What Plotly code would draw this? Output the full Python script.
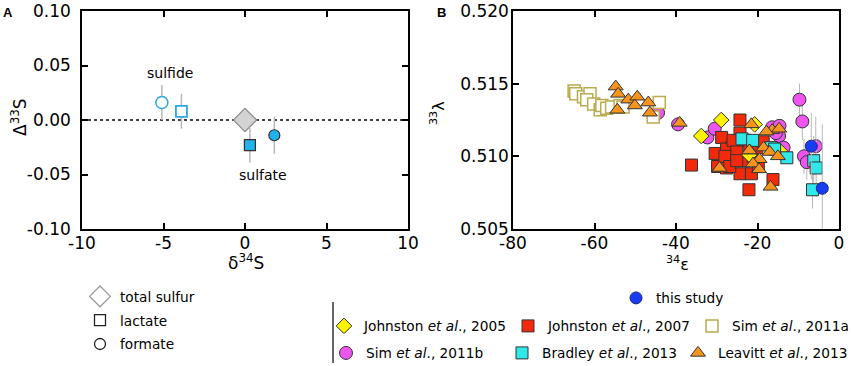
import plotly.graph_objects as go

# ---------------- Panel A data ----------------
a_xticks = [-10, -5, 0, 5, 10]
a_xticktext = ["-10", "-5", "0", "5", "10"]
a_yticks = [-0.10, -0.05, 0.0, 0.05, 0.10]
a_yticktext = ["-0.10", "-0.05", "0.00", "0.05", "0.10"]

sulfide_formate_x = [-5.1]
sulfide_formate_y = [0.016]
sulfide_formate_err = [0.016]
sulfide_lactate_x = [-3.9]
sulfide_lactate_y = [0.008]
sulfide_lactate_err = [0.016]
total_sulfur_x = [0.0]
total_sulfur_y = [0.0]
sulfate_lactate_x = [0.3]
sulfate_lactate_y = [-0.023]
sulfate_lactate_err = [0.016]
sulfate_formate_x = [1.8]
sulfate_formate_y = [-0.014]
sulfate_formate_err = [0.017]

# ---------------- Panel B data ----------------
b_xticks = [-80, -60, -40, -20, 0]
b_xticktext = ["-80", "-60", "-40", "-20", "0"]
b_yticks = [0.505, 0.510, 0.515, 0.520]
b_yticktext = ["0.505", "0.510", "0.515", "0.520"]

sim2011b_x = [-44.4, -39.5, -32.3, -30.5, -16.4, -14.6, -14.7, -13.6, -15.5, -9.7, -9.0, -8.6, -7.9, -5.7]
sim2011b_y = [0.5130, 0.5122, 0.5113, 0.5119, 0.5120, 0.5121, 0.5114, 0.5106, 0.5116, 0.5139, 0.5124, 0.5100, 0.5096, 0.5107]
sim2011b_err = [0.0002, 0.0002, 0.0002, 0.0002, 0.0004, 0.0004, 0.0004, 0.0004, 0.0004, 0.0011, 0.0013, 0.0012, 0.0012, 0.0020]

sim2011a_x = [-65.0, -64.6, -62.7, -61.1, -61.9, -60.2, -58.6, -58.2, -57.0, -55.8, -53.7, -53.0, -45.6, -44.1]
sim2011a_y = [0.5145, 0.5143, 0.5141, 0.5143, 0.5139, 0.5136, 0.5132, 0.5135, 0.5133, 0.5134, 0.5135, 0.5134, 0.5127, 0.5137]

johnston2007_x = [-24.3, -28.8, -30.4, -29.8, -27.6, -26.4, -24.3, -23.1, -25.6, -23.5, -21.9, -21.1, -24.3,
                  -21.5, -22.1, -27.6, -26.0, -25.1, -28.0, -20.2, -18.6, -19.8, -16.2, -36.2, -26.8, -25.1]
johnston2007_y = [0.5125, 0.5113, 0.5102, 0.5093, 0.5092, 0.5106, 0.5116, 0.5111, 0.5100, 0.5097, 0.5105, 0.5100, 0.5088,
                  0.5088, 0.5077, 0.5105, 0.5111, 0.5103, 0.5100, 0.5106, 0.5110, 0.5093, 0.5084, 0.5094, 0.5093, 0.5097]

johnston2005_x = [-33.8, -28.9, -20.7, -22.0, -14.6]
johnston2005_y = [0.5114, 0.5125, 0.5122, 0.5101, 0.5104]

bradley2013_x = [-23.8, -21.2, -16.6, -15.8, -12.8, -6.2, -5.6, -6.5]
bradley2013_y = [0.5112, 0.5111, 0.5106, 0.5105, 0.5099, 0.5097, 0.5092, 0.5077]
bradley2013_err = [0.0002, 0.0002, 0.0003, 0.0003, 0.0004, 0.0017, 0.0020, 0.0013]

leavitt2013_x = [-54.8, -54.2, -54.4, -51.7, -49.5, -50.1, -46.8, -46.4, -39.1, -21.5, -16.4, -14.7,
                 -21.9, -18.5, -17.0, -15.0, -19.5, -21.1, -19.6, -29.3, -16.8, -17.8, -22.0]
leavitt2013_y = [0.5148, 0.5143, 0.5132, 0.5139, 0.5141, 0.5135, 0.5137, 0.5130, 0.5123, 0.5122, 0.5118, 0.5119,
                 0.5104, 0.5106, 0.5103, 0.5100, 0.5098, 0.5095, 0.5091, 0.5092, 0.5079, 0.5117, 0.5104]

this_study_x = [-6.8, -4.1]
this_study_y = [0.5107, 0.5078]
this_study_err = [0.0023, 0.0044]

W, H = 851, 366


def px(xs):
    return xs / W


def py(ys):
    return 1 - ys / H


FONT = "DejaVu Sans"
ERRC = "#b8b8b8"
EDGE = "#3a2e2e"
CYAN_A = "#29a9e1"

fig = go.Figure()


def err(vals, width=1.5):
    return dict(type="data", array=vals, symmetric=True, color=ERRC, thickness=width, width=0)


# ---- Panel A traces ----
fig.add_trace(go.Scatter(x=sulfide_formate_x, y=sulfide_formate_y, error_y=err(sulfide_formate_err),
                         mode="markers", marker=dict(symbol="circle", size=12, color="white",
                                                     line=dict(color=CYAN_A, width=1.5)),
                         xaxis="x", yaxis="y", showlegend=False))
fig.add_trace(go.Scatter(x=sulfide_lactate_x, y=sulfide_lactate_y, error_y=err(sulfide_lactate_err),
                         mode="markers", marker=dict(symbol="square", size=11, color="white",
                                                     line=dict(color=CYAN_A, width=1.8)),
                         xaxis="x", yaxis="y", showlegend=False))
fig.add_trace(go.Scatter(x=total_sulfur_x, y=total_sulfur_y,
                         mode="markers", marker=dict(symbol="diamond", size=18, color="#d3d3d3",
                                                     line=dict(color="#8c8c8c", width=1.2)),
                         xaxis="x", yaxis="y", showlegend=False))
fig.add_trace(go.Scatter(x=sulfate_lactate_x, y=sulfate_lactate_y, error_y=err(sulfate_lactate_err),
                         mode="markers", marker=dict(symbol="square", size=11, color="#1fb2ec",
                                                     line=dict(color=EDGE, width=1.2)),
                         xaxis="x", yaxis="y", showlegend=False))
fig.add_trace(go.Scatter(x=sulfate_formate_x, y=sulfate_formate_y, error_y=err(sulfate_formate_err),
                         mode="markers", marker=dict(symbol="circle", size=11, color="#1fb2ec",
                                                     line=dict(color=EDGE, width=1.2)),
                         xaxis="x", yaxis="y", showlegend=False))

# Panel A legend entries (symbol key only)
for i, (name, sym, sz, lc) in enumerate([("total sulfur", "diamond", 16, "#9a9a9a"),
                                         ("lactate", "square", 11, "#222222"),
                                         ("formate", "circle", 11, "#222222")]):
    fig.add_trace(go.Scatter(x=[None], y=[None], mode="markers", name=name, legend="legend",
                             legendgroup="a%d" % i,
                             marker=dict(symbol=sym, size=sz, color="white", line=dict(color=lc, width=1.3)),
                             xaxis="x", yaxis="y"))


# ---- Panel B traces ----
def btrace(x, y, name, legend, sym, size, color, lcolor="#333333", lwidth=1, errv=None, rank=0):
    kw = {}
    if errv is not None:
        kw["error_y"] = err(errv, 1)
    return go.Scatter(x=x, y=y, mode="markers", name=name, legend=legend, legendrank=rank,
                      marker=dict(symbol=sym, size=size, color=color, line=dict(color=lcolor, width=lwidth)),
                      xaxis="x2", yaxis="y2", **kw)


fig.add_trace(btrace(sim2011b_x, sim2011b_y, "Sim <i>et al</i>., 2011b", "legend4", "circle", 13, "#ee55ee",
                     errv=sim2011b_err, rank=1))
fig.add_trace(btrace(sim2011a_x, sim2011a_y, "Sim <i>et al</i>., 2011a", "legend3", "square", 12, "white",
                     lcolor="#b9ab4e", lwidth=1.5, rank=3))
fig.add_trace(btrace(johnston2007_x, johnston2007_y, "Johnston <i>et al</i>., 2007", "legend3", "square", 12,
                     "#f22a0c", rank=2))
fig.add_trace(btrace(johnston2005_x, johnston2005_y, "Johnston <i>et al</i>., 2005", "legend3", "diamond", 12,
                     "#fff200", rank=1))
fig.add_trace(btrace(bradley2013_x, bradley2013_y, "Bradley <i>et al</i>., 2013", "legend4", "square", 12,
                     "#2ee8ea", errv=bradley2013_err, rank=2))
fig.add_trace(btrace(leavitt2013_x, leavitt2013_y, "Leavitt <i>et al</i>., 2013", "legend4", "triangle-up", 13,
                     "#f7941d", rank=3))
fig.add_trace(btrace(this_study_x, this_study_y, "this study", "legend2", "circle", 12, "#1a3cf0",
                     lcolor="#1a2a80", errv=this_study_err))

# ---- Layout ----
axis_common = dict(showgrid=False, zeroline=False, showline=True, linecolor="black", linewidth=1.5,
                   mirror="ticks", ticks="inside", ticklen=6, tickwidth=1.5, tickcolor="black",
                   automargin=False, ticklabeloverflow="allow",
                   tickfont=dict(family=FONT, size=17, color="black"))

xa_dom = [px(82), px(408)]
xb_dom = [px(513), px(839)]
y_dom = [py(229), py(11)]

legend_common = dict(bgcolor="rgba(0,0,0,0)", font=dict(family=FONT, size=13.7, color="black"),
                     borderwidth=0, itemclick=False)

fig.update_layout(
    width=W, height=H, margin=dict(l=0, r=0, t=0, b=0, autoexpand=False),
    paper_bgcolor="white", plot_bgcolor="white",
    font=dict(family=FONT, color="black"),
    xaxis=dict(axis_common, domain=xa_dom, range=[-10, 10], tickvals=a_xticks, ticktext=a_xticktext,
               anchor="y", ticklabelstandoff=-2),
    yaxis=dict(axis_common, domain=y_dom, range=[-0.10, 0.10], tickvals=a_yticks, ticktext=a_yticktext,
               anchor="x", ticklabelstandoff=6),
    xaxis2=dict(axis_common, domain=xb_dom, range=[-80, 0], tickvals=b_xticks, ticktext=b_xticktext,
                anchor="y2", ticklabelstandoff=-2),
    yaxis2=dict(axis_common, domain=y_dom, range=[0.505, 0.520], tickvals=b_yticks, ticktext=b_yticktext,
                anchor="x2", ticklabelstandoff=-1),
    legend=dict(legend_common, orientation="v", x=px(80), xanchor="left",
                y=py(281), yanchor="top", tracegroupgap=3),
    legend2=dict(legend_common, orientation="v", x=px(616), xanchor="left",
                 y=py(298), yanchor="middle"),
    legend3=dict(legend_common, orientation="h", x=px(324), xanchor="left",
                 y=py(326), yanchor="middle", entrywidth=139, entrywidthmode="pixels"),
    legend4=dict(legend_common, orientation="h", x=px(326), xanchor="left",
                 y=py(353), yanchor="middle", entrywidth=131, entrywidthmode="pixels"),
    showlegend=True,
)

# dotted zero line in panel A
fig.add_shape(type="line", xref="x domain", yref="y", x0=0, x1=1, y0=0, y1=0,
              line=dict(color="black", width=1.5, dash="dot"), layer="below")
# separator line in legend area
fig.add_shape(type="line", xref="paper", yref="paper", x0=px(333), x1=px(333),
              y0=py(363), y1=py(302), line=dict(color="#333333", width=1.5))


def ann(text, x, y, size=17, angle=0, family=FONT):
    fig.add_annotation(text=text, x=px(x), y=py(y), xref="paper", yref="paper", showarrow=False,
                       xanchor="center", yanchor="middle", textangle=angle, borderpad=0,
                       font=dict(family=family, size=size, color="black"))


# axis titles
ann("δ<sup>34</sup>S", 246, 262)
ann("Δ<sup>33</sup>S", 19, 117, angle=-90)
ann("<sup>34</sup>ε", 677, 263, size=16)
ann("<sup>33</sup>λ", 437, 113, size=16, angle=-90)
# panel letters
ann("<b>A</b>", 8, 12, size=13, family="Liberation Sans")
ann("<b>B</b>", 441, 12, size=13, family="Liberation Sans")

# data-anchored labels
fig.add_annotation(text="sulfide", x=-4.6, y=0.043, xref="x", yref="y", showarrow=False,
                   font=dict(family=FONT, size=14, color="black"))
fig.add_annotation(text="sulfate", x=1.1, y=-0.050, xref="x", yref="y", showarrow=False,
                   font=dict(family=FONT, size=14, color="black"))

fig.write_html("out.html", post_script="document.body.style.margin='0';",
               config={"displayModeBar": False})
